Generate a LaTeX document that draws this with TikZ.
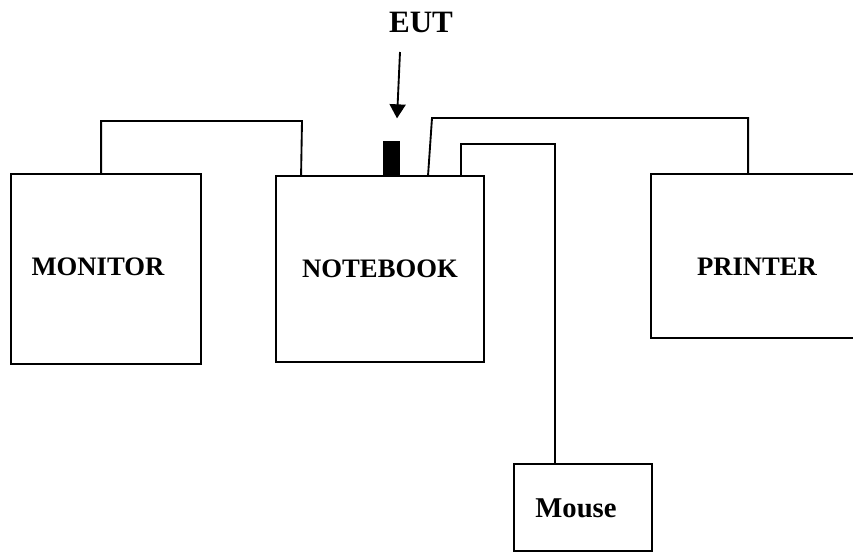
\documentclass[tikz,border=0pt]{standalone}
\usepackage{fontspec}
\setmainfont{Liberation Serif}
\usetikzlibrary{arrows.meta,calc}
\begin{document}
\begin{tikzpicture}[x=0.75pt,y=-0.75pt,
  box/.style={draw,line width=1.4pt,inner sep=0pt},
  wire/.style={draw,line width=1.4pt},
  lbl/.style={inner sep=0pt,anchor=base,font=\fontsize{20}{24}\selectfont\bfseries}]
\useasboundingbox (0,0) rectangle (853,554);
\clip (0,0) rectangle (853,554);
\node[box,minimum width=142.5pt,minimum height=142.5pt] (monitor) at (106,269) {};
\node[lbl] (monitortxt) at (98,275) {MONITOR};
\node[box,minimum width=156pt,minimum height=139.5pt] (notebook) at (380,269) {};
\node[lbl] (notebooktxt) at (380,277) {NOTEBOOK};
\node[box,minimum width=171.75pt,minimum height=123pt] (printer) at (765.5,256) {};
\node[lbl] (printertxt) at (757,275) {PRINTER};
\node[box,minimum width=103.5pt,minimum height=65.25pt] (mouse) at (583,507.5) {};
\node[lbl,font=\fontsize{21.5}{26}\selectfont\bfseries] (mousetxt) at (576,517) {Mouse};
\node[draw,fill=black,line width=0.5pt,inner sep=0pt,minimum width=12pt,minimum height=25.5pt,anchor=south] (eut) at (391,176) {};
\node[lbl,font=\fontsize{23.3}{28}\selectfont\bfseries] (euttxt) at (421,32) {EUT};
\coordinate (arrstart) at (400,52);
\draw[line width=1.4pt,-{Triangle[width=12pt,length=10.5pt]}] (arrstart) -- ($(eut.north)+(6,-23)$);
% monitor - notebook
\draw[wire] ($(monitor.north west)+(91,0)$) |- (302,121) -- ($(notebook.north west)+(26,0)$);
% notebook - printer
\draw[wire] ($(notebook.north west)+(153,0)$) -- (432,118) -| ($(printer.north west)+(98,0)$);
% notebook - mouse
\draw[wire] ($(notebook.north west)+(186,0)$) |- (555,144) -- (555,464) -- (mouse.north -| 555,464);
\end{tikzpicture}
\end{document}
